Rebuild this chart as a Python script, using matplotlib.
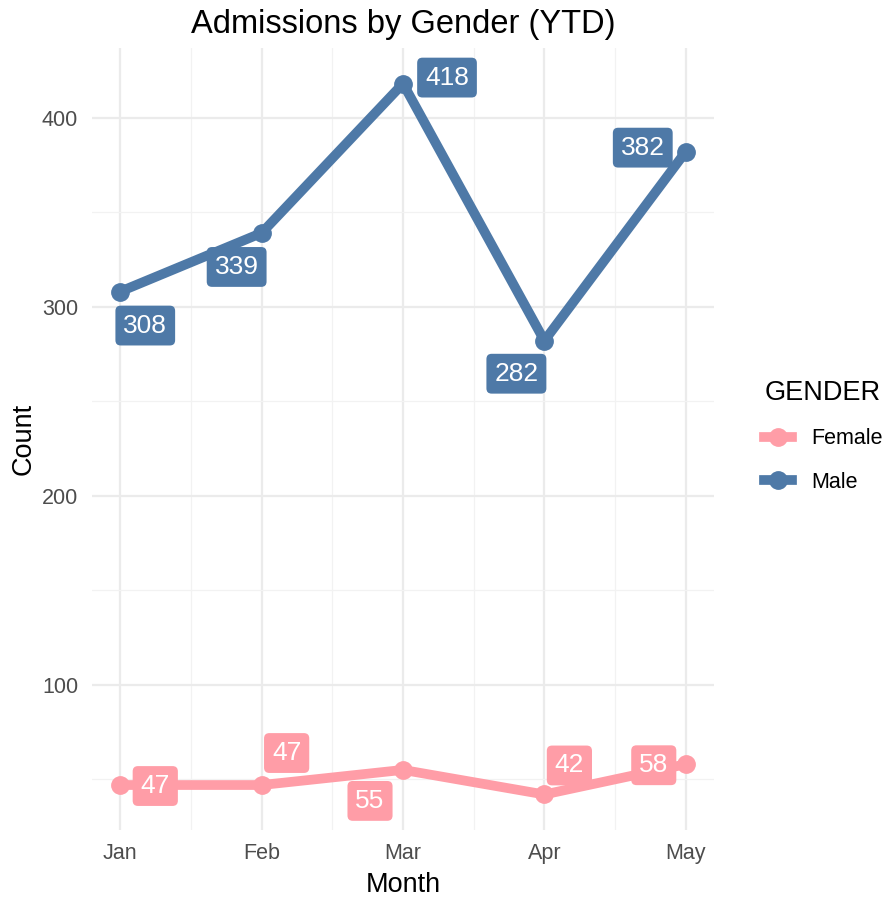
import matplotlib

matplotlib.use("Agg")
import matplotlib.pyplot as plt  # noqa: E402
from matplotlib.lines import Line2D  # noqa: E402
from matplotlib.ticker import MultipleLocator  # noqa: E402

plt.rcParams["font.family"] = ["Liberation Sans", "DejaVu Sans"]

months = ["Jan", "Feb", "Mar", "Apr", "May"]
male = [308, 339, 418, 282, 382]
female = [47, 47, 55, 42, 58]

# label offsets (pixels) from each point, mimicking the repelled labels
male_offsets = [(25, -34), (-25, -34), (44, 6), (-28, -33), (-43, 4)]
female_offsets = [(35, -1), (25, 32), (-33, -31), (25, 29), (-32, -1)]

MALE_COLOR = "#4E79A7"
FEMALE_COLOR = "#FF9DA7"
LW = 7
MS = 12.5

fig = plt.figure(figsize=(8.88, 8.98), dpi=100)
ax = fig.add_axes([0.1036, 0.0757, 0.7005, 0.8708])

x = list(range(len(months)))
for values, color, offsets in [
    (female, FEMALE_COLOR, female_offsets),
    (male, MALE_COLOR, male_offsets),
]:
    ax.plot(x, values, color=color, lw=LW, solid_capstyle="butt", zorder=3)
    ax.plot(x, values, "o", color=color, ms=MS, zorder=4)
    for xi, v, (dx, dy) in zip(x, values, offsets):
        ax.annotate(
            str(v),
            xy=(xi, v),
            xytext=(dx * 0.72, dy * 0.72),
            textcoords="offset points",
            ha="center",
            va="center",
            color="white",
            fontsize=19,
            zorder=5,
            bbox=dict(boxstyle="round,pad=0.3,rounding_size=0.2", fc=color, ec="none"),
        )

ax.set_xlim(-0.2, 4.2)
ax.set_ylim(23.2, 436.8)
ax.set_xticks(x)
ax.set_xticklabels(months)
ax.xaxis.set_minor_locator(MultipleLocator(0.5))
ax.yaxis.set_major_locator(MultipleLocator(100))
ax.yaxis.set_minor_locator(MultipleLocator(50))
ax.grid(True, which="major", color="#EBEBEB", lw=1.6, zorder=0)
ax.grid(True, which="minor", color="#F2F2F2", lw=0.9, zorder=0)
ax.set_axisbelow(True)
for s in ax.spines.values():
    s.set_visible(False)
ax.tick_params(which="both", length=0, labelsize=15.5, labelcolor="#4D4D4D")
ax.tick_params(axis="x", pad=9)
ax.tick_params(axis="y", pad=10)

ax.set_title("Admissions by Gender (YTD)", fontsize=23.5, pad=11)
ax.set_xlabel("Month", fontsize=19.5, labelpad=6)
ax.set_ylabel("Count", fontsize=19.5, labelpad=4)

handles = [
    Line2D([], [], color=FEMALE_COLOR, lw=LW, marker="o", ms=MS),
    Line2D([], [], color=MALE_COLOR, lw=LW, marker="o", ms=MS),
]
leg = fig.legend(
    handles,
    ["Female", "Male"],
    title="GENDER",
    loc="center left",
    bbox_to_anchor=(0.851, 0.514),
    frameon=False,
    fontsize=15.5,
    title_fontsize=19.5,
    handlelength=1.3,
    handletextpad=0.9,
    labelspacing=1.05,
    borderaxespad=0,
    alignment="left",
)

fig.savefig("out.png", dpi=100)
